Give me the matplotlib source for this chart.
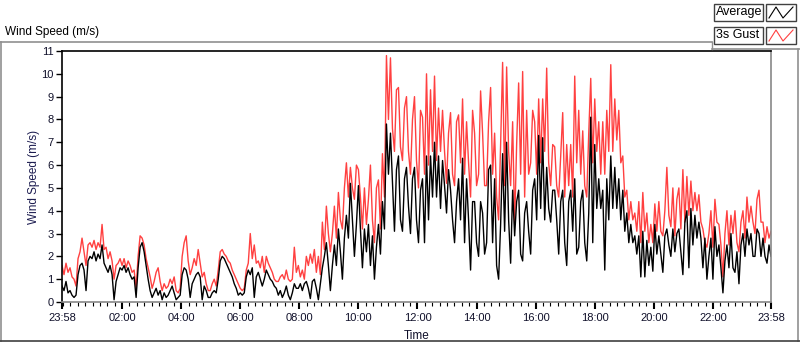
import numpy as np
import matplotlib
matplotlib.use("Agg")
import matplotlib.pyplot as plt
from matplotlib.lines import Line2D
from matplotlib.patches import Rectangle

plt.rcParams['font.family'] = ['Liberation Sans', 'DejaVu Sans']

# ---- data (m/s), evenly spaced samples over the 24 h window ----
avg = [
    0.7, 0.5, 0.9, 0.4, 0.5, 0.3, 0.2, 0.3, 1.2, 1.6, 1.7, 1.4, 0.5, 1.8, 2.0, 1.9,
    2.2, 1.8, 2.1, 1.9, 2.5, 1.7, 1.5, 1.3, 1.6, 1.2, 0.1, 0.9, 1.2, 1.5, 1.4, 1.6,
    1.3, 1.5, 1.2, 1.0, 1.1, 0.2, 1.5, 2.4, 2.6, 2.2, 1.6, 1.0, 0.5, 0.2, 0.4, 0.6,
    0.3, 0.5, 0.1, 0.4, 0.2, 0.3, 0.5, 0.7, 0.4, 0.1, 0.2, 0.3, 1.2, 1.5, 1.4, 1.0,
    0.2, 0.8, 1.0, 1.2, 1.3, 1.1, 0.1, 0.7, 0.5, 0.2, 0.2, 0.4, 0.5, 0.4, 1.0, 1.8,
    2.0, 1.9, 1.7, 1.5, 1.3, 1.1, 0.8, 0.6, 0.3, 0.4, 0.3, 0.4, 1.1, 1.4, 1.2, 1.5,
    0.2, 1.1, 1.3, 1.0, 0.7, 1.0, 1.4, 1.2, 1.0, 0.9, 0.7, 0.6, 0.3, 0.5, 0.2, 0.4,
    0.7, 0.3, 0.1, 0.4, 0.8, 0.6, 0.6, 0.8,
    0.5, 0.8, 0.9, 0.6, 0.15, 0.9, 1.0, 0.6, 0.1, 0.8, 1.5, 2.0, 2.6, 1.6, 0.5, 1.6,
    2.5, 1.6, 3.2, 2.2, 1.0, 2.8, 3.8, 2.8, 5.2, 3.6, 2.0, 3.4, 5.1, 3.2, 1.5, 3.2,
    2.2, 3.4, 1.6, 2.9, 1.0, 2.4, 3.4, 2.1, 4.4, 3.2, 7.8, 5.6, 7.4, 5.2, 3.1, 5.8,
    6.4, 3.6, 3.1, 5.4, 5.9, 4.2, 3.0, 5.4, 5.9, 3.6, 2.6, 4.9, 5.4, 2.6, 6.4, 3.6,
    6.4, 4.6, 7.0, 4.6, 6.4, 4.1, 6.2, 5.1, 3.9, 5.8, 4.9, 3.6, 2.6, 4.4, 5.4, 3.6,
    6.3, 2.6, 5.4, 3.6, 1.4, 4.4, 4.4, 2.6, 2.0, 4.4, 3.9, 2.1, 2.6, 5.8, 6.0, 2.6,
    5.4, 1.6, 1.0, 3.4, 6.5, 3.1, 7.0, 3.6, 1.7, 4.9, 2.9, 4.4, 4.9, 2.1, 1.8, 3.9,
    4.4, 3.1, 2.1, 4.9, 5.4, 3.6, 7.3, 4.1, 7.2, 3.6, 5.9, 4.1, 3.5, 4.9, 4.9, 3.6,
    2.1, 4.4, 4.9, 2.6, 1.6, 4.4, 4.9, 3.1, 5.4, 2.1, 2.4, 4.4, 4.9, 2.6, 1.8, 3.9,
    8.1, 2.6, 6.9, 4.1, 5.4, 4.1, 4.9, 1.4, 5.4, 3.6, 6.4, 4.1, 5.9, 4.1, 5.4, 3.6,
    4.9, 3.1, 3.9, 2.6, 3.4, 2.6, 2.9, 2.1, 2.9, 1.1, 3.1, 1.1, 2.7, 1.6, 2.4, 1.35,
    3.4, 2.1, 2.9, 2.1, 1.3, 2.9, 3.2, 2.5, 2.0, 3.2, 2.2, 3.0, 3.2, 2.2, 1.2, 3.5,
    4.0, 1.5, 4.1, 2.5, 3.8, 2.8, 3.5, 2.8, 1.5, 2.8, 1.0, 2.0, 2.8, 1.0, 3.3, 2.0,
    2.5, 1.5, 0.4, 1.8, 2.5, 1.5, 3.0, 1.5, 1.3, 2.2, 0.8, 2.5, 3.0, 2.0, 3.2, 2.5,
    3.0, 2.0, 2.0, 3.2, 3.0, 2.0, 2.8, 2.0, 1.7, 2.5, 2.0,
]

gust = [
    1.6, 1.2, 1.7, 1.3, 1.5, 1.1, 1.0, 0.7, 1.9, 2.2, 2.8, 2.2, 1.6, 2.5, 2.6, 2.4,
    2.7, 2.3, 2.6, 2.4, 3.4, 2.3, 2.4, 1.9, 2.2, 1.8, 1.0, 1.6, 1.7, 1.9, 1.6, 1.9,
    1.5, 1.8, 1.6, 1.3, 1.4, 0.6, 2.0, 2.9, 2.8, 2.5, 1.9, 1.5, 1.1, 0.6, 0.9, 1.3,
    1.5, 0.9, 0.5, 0.8, 0.6, 0.7, 1.0, 0.8, 1.1, 0.5, 0.4, 0.6, 2.0, 2.6, 2.9, 1.8,
    1.2, 1.5, 1.9, 1.6, 2.3, 1.7, 1.1, 1.3, 0.8, 0.5, 0.5, 0.8, 1.0, 0.7, 1.4, 2.2,
    2.3, 2.1, 2.0, 1.8, 1.7, 1.4, 1.2, 1.0, 0.8, 0.6, 0.5, 0.6, 1.4, 1.7, 3.0, 1.9,
    2.5, 1.7, 1.8, 1.5, 2.0, 1.3, 2.0, 1.7, 1.5, 1.3, 1.0, 0.9, 0.9, 1.1, 1.2, 1.0,
    1.4, 1.0, 0.9, 1.0, 2.4, 1.3, 1.6, 1.1,
    1.4, 1.0, 2.0, 1.6, 2.1, 1.7, 2.3, 1.3, 2.0, 1.2, 3.5, 2.3, 4.2, 3.0, 2.2, 3.0,
    4.2, 2.8, 4.8, 3.6, 3.2, 5.0, 6.1, 4.6, 5.9, 5.0, 4.5, 6.0, 5.8, 4.6, 3.2, 5.0,
    3.4, 4.5, 6.0, 3.6, 2.6, 5.0, 5.35, 3.2, 6.5, 4.6, 10.8, 8.0, 10.7, 7.6, 6.6, 9.3,
    9.4, 6.8, 6.2, 8.5, 9.0, 6.6, 5.6, 8.0, 9.0, 6.2, 5.0, 8.4, 8.1, 5.6, 10.0, 6.0,
    9.3, 6.6, 9.9, 6.2, 8.5, 6.6, 8.4, 6.6, 5.2, 7.4, 8.3, 5.6, 5.1, 7.9, 8.2, 6.1,
    8.9, 5.6, 7.9, 6.1, 4.6, 8.4, 7.4, 5.1, 5.6, 9.25, 7.4, 5.1, 5.1, 7.9, 9.4, 5.6,
    7.4, 4.6, 3.6, 6.9, 10.5, 5.1, 10.3, 6.6, 5.1, 7.9, 3.4, 6.9, 9.6, 5.6, 10.1, 4.6,
    8.4, 5.6, 6.1, 8.4, 7.9, 5.6, 8.9, 6.1, 8.9, 6.6, 10.25, 6.1, 5.1, 6.9, 6.8, 5.1,
    4.6, 6.4, 8.3, 4.6, 6.9, 5.1, 6.9, 4.6, 9.9, 6.1, 8.4, 5.6, 7.5, 5.1, 4.6, 7.4,
    9.8, 6.1, 8.9, 6.6, 7.9, 5.6, 7.9, 5.6, 8.4, 6.6, 10.4, 6.6, 8.9, 7.1, 8.4, 6.1,
    6.4, 4.6, 4.9, 3.6, 4.4, 3.6, 3.9, 3.1, 4.4, 2.6, 4.8, 3.1, 3.9, 2.6, 3.4, 2.6,
    4.3, 3.1, 4.4, 3.1, 2.9, 4.0, 5.9, 3.8, 3.3, 5.0, 2.9, 4.5, 5.0, 3.2, 5.8, 3.5,
    5.5, 3.8, 5.3, 4.0, 4.8, 4.0, 4.7, 3.5, 3.2, 2.6, 2.4, 3.0, 4.0, 2.4, 4.5, 3.5,
    3.4, 2.5, 1.1, 3.0, 4.0, 2.5, 3.8, 3.0, 4.0, 2.6, 2.2, 3.5, 4.0, 2.8, 4.6, 3.5,
    4.2, 3.5, 3.0, 4.5, 4.9, 3.5, 3.5, 2.6, 3.3, 2.8, 3.1,
]

tick_minutes = [0, 122, 242, 362, 482, 602, 722, 842, 962, 1082, 1202, 1322, 1440]
tick_labels = ['23:58', '02:00', '04:00', '06:00', '08:00', '10:00', '12:00',
               '14:00', '16:00', '18:00', '20:00', '22:00', '23:58']
y_ticks = list(range(0, 12))

n = min(len(avg), len(gust))
avg = np.array(avg[:n])
gust = np.array(gust[:n])
t = np.linspace(0, 1440, n)

W, H = 800, 342
fig = plt.figure(figsize=(W / 100, H / 100), dpi=100)
fig.patch.set_facecolor('white')

def fx(x):
    return x / W

def fy(y):
    return 1 - y / H

ax = fig.add_axes([fx(62), fy(302), fx(771) - fx(62), fy(51) - fy(302)])
ax.plot(t, gust, color='#ff4040', lw=1.0)
ax.plot(t, avg, color='black', lw=1.0)
ax.set_xlim(0, 1440)
ax.set_ylim(0, 11)

ax.set_xticks(tick_minutes)
ax.set_xticklabels(tick_labels)
ax.set_xticks(np.arange(2, 1440, 15), minor=True)
ax.set_yticks(y_ticks)
ax.tick_params(axis='both', which='major', labelsize=8, length=4, width=1,
               color='black', labelcolor='#10102a', pad=2)
ax.tick_params(axis='x', which='minor', length=3, width=0.8, color='black')
ax.tick_params(axis='x', which='major', length=5, width=1.5, pad=3)

for side in ['top', 'left']:
    ax.spines[side].set_color('black')
    ax.spines[side].set_linewidth(1.2)
for side in ['bottom', 'right']:
    ax.spines[side].set_color('#888888')
    ax.spines[side].set_linewidth(1.2)

ax.set_xlabel('Time', fontsize=8.5, color='#10102a', labelpad=5)
ax.set_ylabel('Wind Speed (m/s)', fontsize=8.5, color='#1c1c50', labelpad=1)

# ---- outer frame / decorations ----
fig.text(fx(5), fy(32), 'Wind Speed (m/s)', fontsize=8.5, color='black',
         ha='left', va='center')
gray = '#909090'
fig.add_artist(Line2D([fx(0), fx(712)], [fy(42), fy(42)], color=gray, lw=1.2))
fig.add_artist(Line2D([fx(712), fx(712)], [fy(42), fy(49)], color=gray, lw=1.0))
fig.add_artist(Line2D([fx(712), fx(800)], [fy(49), fy(49)], color=gray, lw=1.2))
fig.add_artist(Line2D([fx(0.6), fx(0.6)], [fy(42), fy(341)], color=gray, lw=1.2))
fig.add_artist(Line2D([fx(798), fx(798)], [fy(49), fy(341)], color=gray, lw=1.2))
fig.add_artist(Line2D([fx(0), fx(800)], [fy(341), fy(341)], color='#404040', lw=1.2))

# legend boxes
legend_items = [('Average', 'black', 4, 21), ('3s Gust', '#ff4040', 27, 44)]
for name, col, y0, y1 in legend_items:
    fig.add_artist(Rectangle((fx(714), fy(y1)), fx(763) - fx(714), fy(y0) - fy(y1),
                             facecolor='white', edgecolor='#404040', lw=1.0))
    fig.text(fx(716), fy((y0 + y1) / 2), name, fontsize=9, color='black',
             ha='left', va='center')
    fig.add_artist(Rectangle((fx(766), fy(y1)), fx(796) - fx(766), fy(y0) - fy(y1),
                             facecolor='white', edgecolor='#404040', lw=1.0))
    zx = [769, 776, 783, 793]
    zy = [y1 - 3, y0 + 3, y1 - 3, y0 + 3]
    fig.add_artist(Line2D([fx(v) for v in zx], [fy(v) for v in zy], color=col, lw=0.8))

fig.savefig('out.png', dpi=100, facecolor='white')
